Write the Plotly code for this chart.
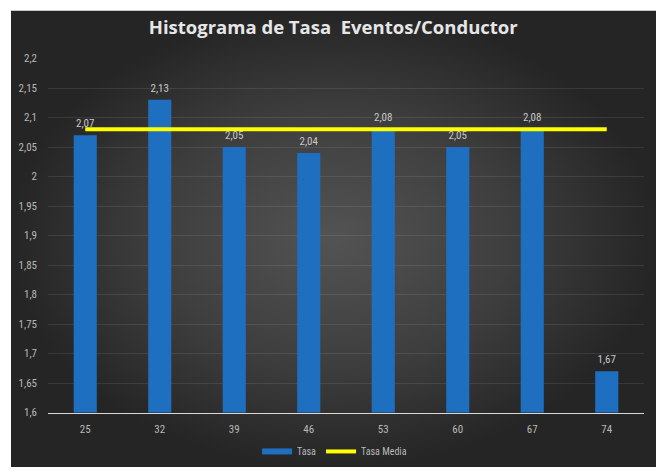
import plotly.graph_objects as go

# ---- data ----
categories = ["25", "32", "39", "46", "53", "60", "67", "74"]
tasa = [2.07, 2.13, 2.05, 2.04, 2.08, 2.05, 2.08, 1.67]
tasa_media = [2.08] * len(categories)
y_ticks = [1.6, 1.65, 1.7, 1.75, 1.8, 1.85, 1.9, 1.95, 2.0, 2.05, 2.1, 2.15, 2.2]
title_text = "Histograma de Tasa \u00a0Eventos/Conductor"

W, H = 656, 474
# background panel (decoration) in pixel coordinates
bg_x = [11, W, W, 11, 11]
bg_y = [5, 5, H, H, 5]

BAR_COLOR = "#1f6fc0"
narrow = "Liberation Sans Narrow, Roboto Condensed, Roboto, sans-serif"
tick_font = dict(family=narrow, size=11, color="#b8b8b8")

fig = go.Figure()

# decorative radial-gradient background
fig.add_trace(go.Scatter(
    x=bg_x, y=bg_y, xaxis="x", yaxis="y", mode="lines", fill="toself",
    line=dict(width=0, color="rgba(0,0,0,0)"),
    fillgradient=dict(type="radial",
                      colorscale=[[0, "#535353"], [0.55, "#3e3e3e"], [1, "#252525"]]),
    hoverinfo="skip", showlegend=False,
))

fig.add_trace(go.Bar(
    x=categories, y=tasa, name="Tasa", xaxis="x2", yaxis="y2",
    marker=dict(color=BAR_COLOR, line=dict(width=0)),
    showlegend=False,
))

# legend entry for bars (wide flat blue swatch, as in the reference)
fig.add_trace(go.Scatter(
    x=[categories[0]], y=[None], name="Tasa", xaxis="x2", yaxis="y2",
    mode="lines", line=dict(color=BAR_COLOR, width=6), hoverinfo="skip",
))

fig.add_trace(go.Scatter(
    x=categories, y=tasa_media, name="Tasa Media", xaxis="x2", yaxis="y2",
    mode="lines", line=dict(color="#ffff00", width=4),
))

# data labels above the bars
fig.add_trace(go.Scatter(
    x=categories, y=tasa, xaxis="x2", yaxis="y2", mode="markers+text",
    marker=dict(size=7, color="rgba(0,0,0,0)"),
    texttemplate="%{y:.2f}", textposition="top center",
    textfont=dict(family=narrow, size=11, color="#c8c8c8"),
    cliponaxis=False, showlegend=False, hoverinfo="skip",
))

x0, x1 = 48 / W, 644 / W
y0, y1 = (H - 418) / H, (H - 54) / H

fig.update_layout(
    width=W, height=H,
    margin=dict(l=0, r=0, t=0, b=0),
    paper_bgcolor="white",
    plot_bgcolor="rgba(0,0,0,0)",
    separators=",.",
    bargap=0.69,
    title=dict(text="<b>" + title_text + "</b>", x=0.508, xanchor="center", y=1 - 28 / H, yanchor="middle",
               font=dict(family="Open Sans, sans-serif", size=18.5, color="#e6e6e6")),
    xaxis=dict(domain=[0, 1], range=[0, W], visible=False, fixedrange=True),
    yaxis=dict(domain=[0, 1], range=[H, 0], visible=False, fixedrange=True),
    xaxis2=dict(domain=[x0, x1], anchor="y2", type="category",
                showline=True, linecolor="#d9d9d9", linewidth=1,
                showgrid=False, ticks="", tickfont=tick_font, ticklabelstandoff=6),
    yaxis2=dict(domain=[y0, y1], anchor="x2", range=[1.6, 2.2],
                tickvals=y_ticks, showgrid=True, gridcolor="rgba(255,255,255,0.09)", gridwidth=1,
                zeroline=False, showline=False, ticks="", tickfont=tick_font,
                ticklabelstandoff=10),
    legend=dict(orientation="h", x=0.51, xanchor="center", y=(H - 458) / H, yanchor="middle",
                font=dict(family=narrow, size=10, color="#b8b8b8"),
                bgcolor="rgba(0,0,0,0)", itemwidth=30, tracegroupgap=0),
    showlegend=True,
)

fig.write_html("out.html", config={"displayModeBar": False},
               post_script="document.body.style.margin='0';document.body.style.padding='0';")
